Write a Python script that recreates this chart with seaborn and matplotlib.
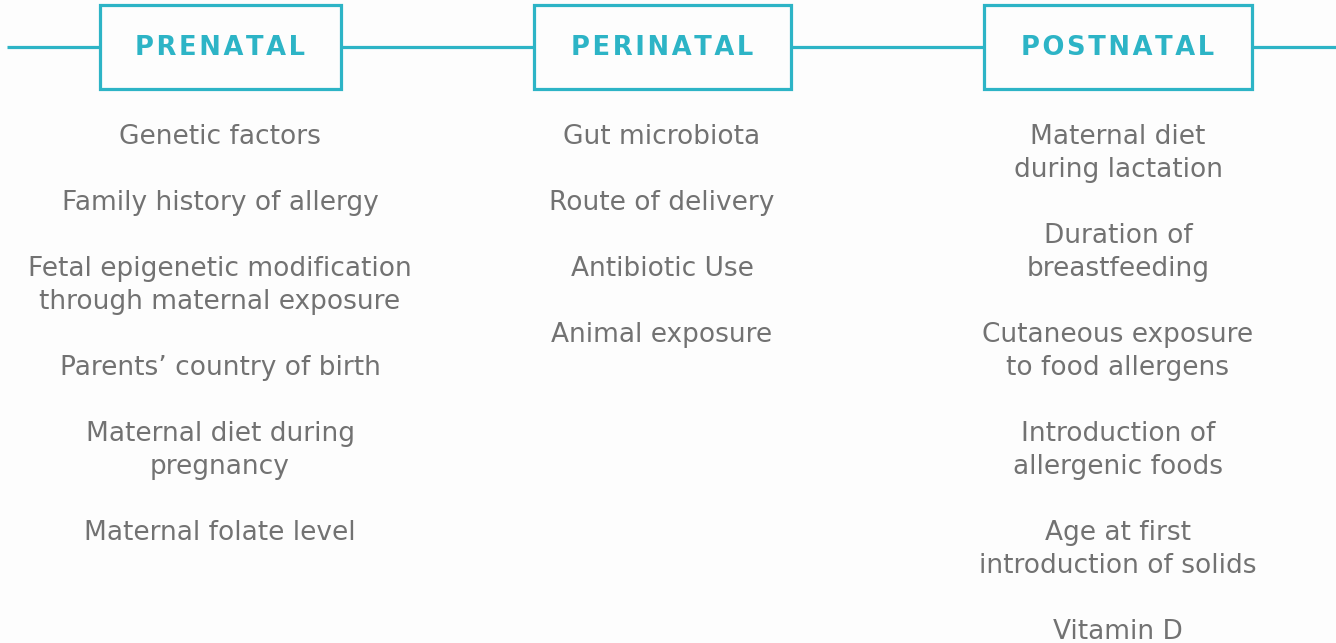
import matplotlib
matplotlib.use('Agg')
import matplotlib.pyplot as plt
import seaborn as sns

# Fases e fatores de risco (texto do diagrama)
fases = ['PRENATAL', 'PERINATAL', 'POSTNATAL']
prenatal = ['Genetic factors',
            'Family history of allergy',
            'Fetal epigenetic modification\nthrough maternal exposure',
            'Parents\u2019 country of birth',
            'Maternal diet during\npregnancy',
            'Maternal folate level']
perinatal = ['Gut microbiota',
             'Route of delivery',
             'Antibiotic Use',
             'Animal exposure']
postnatal = ['Maternal diet\nduring lactation',
             'Duration of\nbreastfeeding',
             'Cutaneous exposure\nto food allergens',
             'Introduction of\nallergenic foods',
             'Age at first\nintroduction of solids',
             'Vitamin D']
fatores = [prenatal, perinatal, postnatal]

# layout (pixels)
centros = [220, 662, 1118]
larguras = [241, 257, 268]
topo_caixa, base_caixa = 5, 89
y_linha = 47
y_texto = 137
passo = 33

azul = '#2db4c6'
cinza = '#727272'

sns.set_style('white')
plt.rcParams['font.family'] = ['DejaVu Sans']

fig = plt.figure(figsize=(13.36, 6.43), dpi=100, facecolor='#fdfdfd')
ax = fig.add_axes([0, 0, 1, 1])
ax.set_facecolor('#fdfdfd')
ax.set_xlim(0, 1336)
ax.set_ylim(643, 0)
ax.axis('off')

# linha do tempo
ax.plot([7, 1336], [y_linha, y_linha], color=azul, lw=2.3, zorder=1, solid_capstyle='butt')

for fase, cx, w, itens in zip(fases, centros, larguras, fatores):
    caixa = plt.Rectangle((cx - w / 2, topo_caixa), w, base_caixa - topo_caixa,
                          facecolor='#fdfdfd', edgecolor=azul, lw=2.3, zorder=2)
    ax.add_patch(caixa)
    ax.text(cx, y_linha + 1, '\u200a'.join(fase), ha='center', va='center',
            color=azul, fontsize=18.5, fontweight='bold', zorder=3)
    linha = 0
    for item in itens:
        for parte in item.split('\n'):
            ax.text(cx, y_texto + linha * passo, parte, ha='center', va='center',
                    color=cinza, fontsize=19)
            linha += 1
        linha += 1

fig.savefig('out.png', dpi=100, facecolor=fig.get_facecolor())
